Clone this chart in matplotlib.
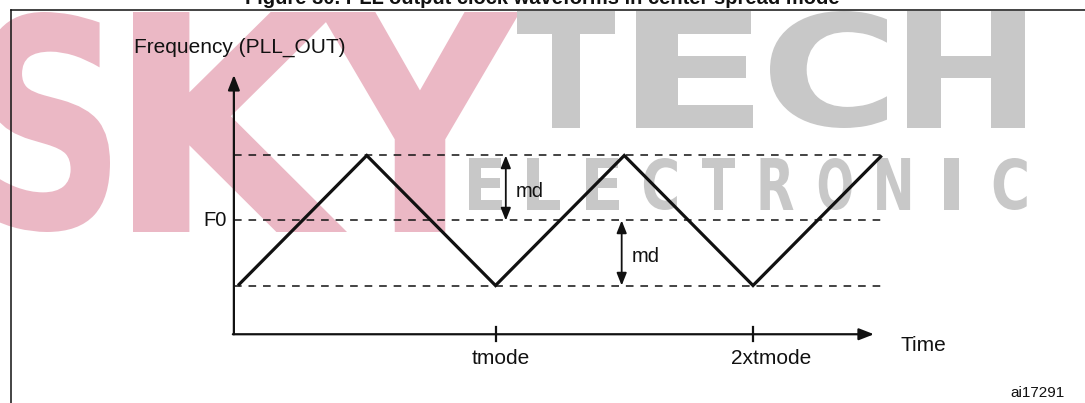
"""PLL output clock waveform in center spread mode (triangle modulation)."""
import matplotlib

matplotlib.use("Agg")
import matplotlib.pyplot as plt
from matplotlib.font_manager import FontProperties
from matplotlib.patches import PathPatch
from matplotlib.textpath import TextPath
from matplotlib.transforms import Affine2D

# Waveform corners: time in tmode units, frequency in md units around F0.
wave_t = [0.0, 0.5, 1.0, 1.5, 2.0, 2.5]
wave_f = [-1, 1, -1, 1, -1, 1]
guide_levels = [1, 0, -1]            # F0 + md, F0, F0 - md
tick_t = [1, 2]
tick_labels = ["tmode", "2xtmode"]
tick_label_shift = [0.02, 0.07]      # labels sit a little right of their tick
md_arrow_t = [1.04, 1.49]
md_spans = [(0, 1), (-1, 0)]

W, H = 1085, 403
# pixel of t=0 / F0 and pixels per tmode / per md
X0, TMODE_PX = 238, 257.5
Y0, MD_PX = 220.5, 65

AX_T, AX_F = -0.016, -1.75           # where the two axes cross
T_TIP, F_TIP = 2.47, 2.24

INK = "#111111"
PINK = "#ebb8c5"
GREY = "#c8c8c8"
FONT = "Liberation Sans"
BOLD = FontProperties(family="DejaVu Sans", weight="bold")


def stamp(ax, letter, left, top, width, height, color):
    """Fill a pixel box with one watermark glyph."""
    path = TextPath((0, 0), letter, size=100, prop=BOLD)
    ext = path.get_extents()
    tf = (
        Affine2D()
        .translate(-ext.x0, -ext.y0)
        .scale(width / ext.width, -height / ext.height)
        .translate(left, top + height)
    )
    ax.add_patch(PathPatch(tf.transform_path(path), facecolor=color,
                           edgecolor="none", lw=0))


fig = plt.figure(figsize=(W / 100, H / 100), dpi=100)

# Background layer in pixel coordinates: watermark, frame, title.
bg = fig.add_axes([0, 0, 1, 1])
bg.set_xlim(0, W)
bg.set_ylim(H, 0)
bg.axis("off")

for letter, left, width in [("S", -15, 125), ("K", 133, 214), ("Y", 320, 200)]:
    stamp(bg, letter, left, 12, width, 220, PINK)
for letter, left, width in [("T", 517, 98), ("E", 636, 117),
                            ("C", 770, 117), ("H", 907, 118)]:
    stamp(bg, letter, left, 11, width, 117, GREY)
for i, letter in enumerate("ELECTRONIC"):
    left = 469 + 58.3 * i
    if letter == "I":
        stamp(bg, letter, left + 9, 158, 15, 52, GREY)
    else:
        stamp(bg, letter, left, 158, 33, 52, GREY)

bg.plot([11, 11], [10, H + 5], color=INK, lw=1.1, clip_on=False, zorder=3)
bg.plot([11, W + 5], [10, 10], color=INK, lw=1.1, clip_on=False, zorder=3)
bg.text(542, 4, "Figure 30. PLL output clock waveforms in center spread mode",
        ha="center", va="baseline", fontsize=14.5, fontweight="bold",
        family=FONT, color=INK, clip_on=False)

# Chart layer in tmode / md units.
ax = fig.add_axes([0, 0, 1, 1])
ax.set_xlim(-X0 / TMODE_PX, (W - X0) / TMODE_PX)
ax.set_ylim((Y0 - H) / MD_PX, Y0 / MD_PX)
ax.set_facecolor("none")
ax.axis("off")

axis_arrow = dict(arrowstyle="-|>,head_length=0.9,head_width=0.35",
                  mutation_scale=10, lw=1.6, color=INK, shrinkA=0, shrinkB=0)
ax.annotate("", xy=(AX_T, F_TIP), xytext=(AX_T, AX_F), arrowprops=axis_arrow)
ax.annotate("", xy=(T_TIP, AX_F), xytext=(AX_T - 0.004, AX_F),
            arrowprops=axis_arrow)

ax.hlines(guide_levels, AX_T, wave_t[-1], colors=INK, lw=1.1,
          linestyles=(0, (5, 4.5)))
ax.plot(wave_t, wave_f, color=INK, lw=2.3, solid_joinstyle="miter",
        solid_capstyle="butt", zorder=4)

for t, label, shift in zip(tick_t, tick_labels, tick_label_shift):
    ax.plot([t, t], [AX_F - 0.11, AX_F + 0.11], color=INK, lw=1.6)
    ax.text(t + shift, -2.12, label, ha="center", va="center",
            fontsize=15, family=FONT, color=INK)

md_arrow = dict(arrowstyle="<|-|>,head_length=0.75,head_width=0.3",
                mutation_scale=10, lw=1.3, color=INK, shrinkA=0, shrinkB=0)
for t, (lo, hi) in zip(md_arrow_t, md_spans):
    ax.annotate("", xy=(t, hi), xytext=(t, lo), arrowprops=md_arrow)
    ax.text(t + 0.038, (lo + hi) / 2 - 0.05, "md", ha="left", va="center",
            fontsize=14.5, family=FONT, color=INK)

ax.text(-0.043, 0, "F0", ha="right", va="center", fontsize=14.5,
        family=FONT, color=INK)
ax.text(-0.404, 2.66, "Frequency (PLL_OUT)", ha="left", va="center",
        fontsize=15, family=FONT, color=INK)
ax.text(2.571, -1.93, "Time", ha="left", va="center", fontsize=15,
        family=FONT, color=INK)
ax.text(2.998, -2.65, "ai17291", ha="left", va="center", fontsize=11,
        family=FONT, color=INK)

fig.savefig("out.png", dpi=100)
